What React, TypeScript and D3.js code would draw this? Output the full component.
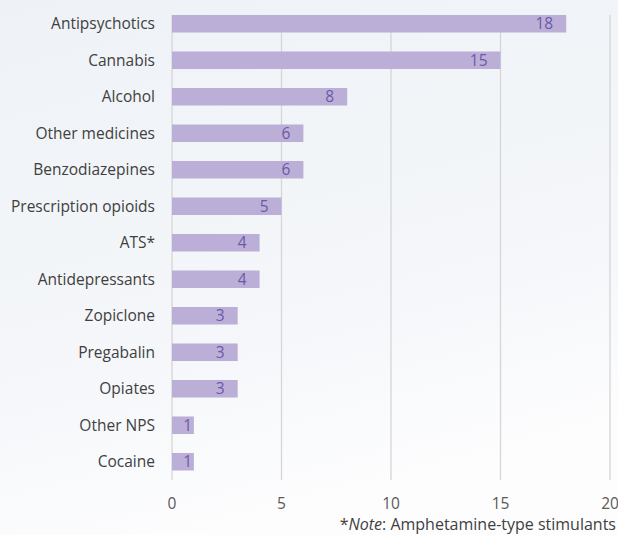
import * as d3 from "d3";
import React from "react";

// categories and counts, top to bottom
const categories = [
  "Antipsychotics",
  "Cannabis",
  "Alcohol",
  "Other medicines",
  "Benzodiazepines",
  "Prescription opioids",
  "ATS*",
  "Antidepressants",
  "Zopiclone",
  "Pregabalin",
  "Opiates",
  "Other NPS",
  "Cocaine",
];
const counts = [18, 15, 8, 6, 6, 5, 4, 4, 3, 3, 3, 1, 1];
const xTicks = [0, 5, 10, 15, 20];

const W = 618;
const H = 535;
const font = "'Open Sans', sans-serif";

export default function App() {
  const x = d3.scaleLinear().domain([0, 20]).range([172, 610]);
  const y = d3
    .scaleBand<string>()
    .domain(categories)
    .range([5.5, 480])
    .paddingInner(0.52)
    .paddingOuter(0.26);

  return (
    <svg
      width={W}
      height={H}
      style={{ position: "absolute", left: 0, top: 0 }}
    >
      <defs>
        <linearGradient id="bg" x1="0" y1="0" x2="0.3" y2="1">
          <stop offset="0%" stopColor="#eef2f6" />
          <stop offset="70%" stopColor="#f5f7fa" />
          <stop offset="100%" stopColor="#fdfdfe" />
        </linearGradient>
      </defs>
      <rect width={W} height={H} fill="url(#bg)" />

      {/* gridlines */}
      {xTicks.map((t) => (
        <line
          key={t}
          x1={x(t)}
          x2={x(t)}
          y1={15}
          y2={480}
          stroke="#d6d6d6"
          strokeWidth={1.3}
        />
      ))}

      {/* bars */}
      {categories.map((c, i) => (
        <g key={c}>
          <rect
            x={x(0)}
            y={y(c)}
            width={x(counts[i]) - x(0)}
            height={y.bandwidth()}
            fill="#bcafd7"
          />
          <text
            x={Math.max(x(counts[i]) - 13, x(0) + 20)}
            y={y(c)! + y.bandwidth() / 2}
            dy="0.36em"
            textAnchor="end"
            fontFamily={font}
            fontSize={15.5}
            fill="#6a5aa6"
          >
            {counts[i]}
          </text>
          <text
            x={155}
            y={y(c)! + y.bandwidth() / 2}
            dy="0.36em"
            textAnchor="end"
            fontFamily={font}
            fontSize={15.5}
            fill="#404040"
          >
            {c}
          </text>
        </g>
      ))}

      {/* x axis labels */}
      {xTicks.map((t) => (
        <text
          key={t}
          x={x(t)}
          y={503}
          dy="0.36em"
          textAnchor="middle"
          fontFamily={font}
          fontSize={15.5}
          fill="#595959"
        >
          {t}
        </text>
      ))}

      <text
        x={616}
        y={524}
        dy="0.36em"
        textAnchor="end"
        fontFamily={font}
        fontSize={16}
        fill="#404040"
      >
        *<tspan fontStyle="italic">Note</tspan>: Amphetamine-type stimulants
      </text>
    </svg>
  );
}
